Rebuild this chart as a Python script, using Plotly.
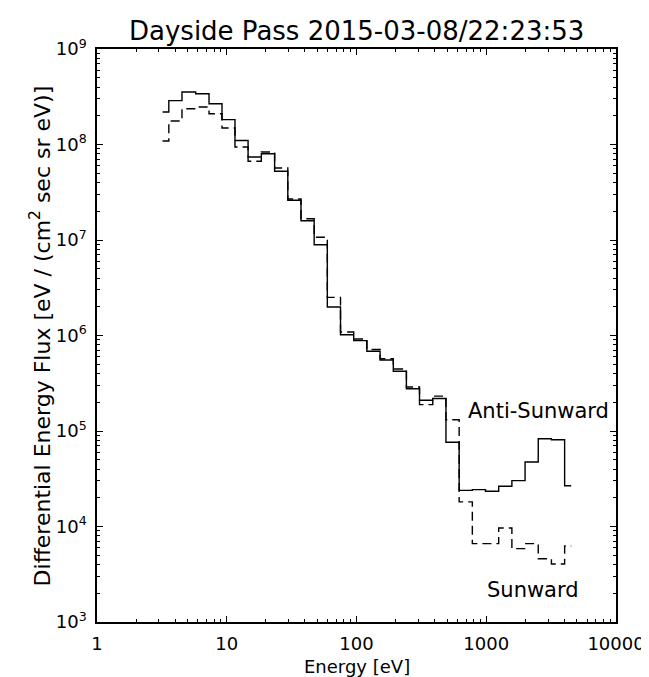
import plotly.graph_objects as go

# Energy bin centres [eV]
energy_ev = [3.2, 4.0, 5.1, 6.5, 8.2, 10.3, 13.0, 16.4, 20.8, 26.3, 33.2, 42.0,
             53.0, 67.0, 84.6, 107, 135, 171, 216, 272, 344, 435, 550, 695,
             878, 1109, 1402, 1771, 2239, 2827, 3573, 4519]

# Differential energy flux [eV / (cm^2 sec sr eV)]
anti_sunward_flux = [2.19e8, 2.88e8, 3.55e8, 3.40e8, 2.67e8, 1.82e8, 1.10e8, 7.40e7,
                     8.01e7, 5.24e7, 2.61e7, 1.59e7, 8.93e6, 1.99e6, 1.02e6, 8.83e5,
                     6.84e5, 5.54e5, 4.22e5, 2.77e5, 2.10e5, 2.19e5, 7.62e4, 2.39e4,
                     2.43e4, 2.34e4, 2.64e4, 3.02e4, 4.74e4, 8.30e4, 8.11e4, 2.67e4]

sunward_flux = [1.09e8, 1.76e8, 2.37e8, 2.47e8, 2.10e8, 1.49e8, 9.4e7, 6.67e7,
                8.34e7, 5.68e7, 2.69e7, 1.67e7, 1.07e7, 2.51e6, 1.09e6, 9.19e5,
                7.13e5, 5.71e5, 4.46e5, 2.89e5, 1.89e5, 2.32e5, 1.31e5, 1.81e4,
                6.61e3, 6.61e3, 9.64e3, 5.86e3, 6.61e3, 4.60e3, 4.05e3, 6.25e3]

x_tick_vals = [1, 10, 100, 1000, 10000]
x_tick_text = ["1", "10", "100", "1000", "10000"]
y_tick_vals = [1e3, 1e4, 1e5, 1e6, 1e7, 1e8, 1e9]
y_tick_text = ["10<sup>3</sup>", "10<sup>4</sup>", "10<sup>5</sup>", "10<sup>6</sup>",
               "10<sup>7</sup>", "10<sup>8</sup>", "10<sup>9</sup>"]

FONT = "DejaVu Sans"

fig = go.Figure()
fig.add_trace(go.Scatter(x=energy_ev, y=anti_sunward_flux, mode="lines",
                         name="Anti-Sunward",
                         line=dict(shape="hvh", color="black", width=1.4)))
fig.add_trace(go.Scatter(x=energy_ev, y=sunward_flux, mode="lines",
                         name="Sunward",
                         line=dict(shape="hvh", color="black", width=1.4, dash="9px,5px")))

axis_common = dict(
    showline=True, linecolor="black", linewidth=1.5, mirror="allticks",
    ticks="inside", ticklen=6, tickwidth=1, tickcolor="black",
    showgrid=False, zeroline=False,
    tickfont=dict(family=FONT, size=18, color="black"),
    minor=dict(ticks="inside", ticklen=3, tickwidth=1, tickcolor="black",
               dtick="D1", showgrid=False),
)

fig.update_xaxes(type="log", range=[0, 4], tickmode="array",
                 tickvals=x_tick_vals, ticktext=x_tick_text,
                 ticklabelstandoff=5, **axis_common)
fig.update_yaxes(type="log", range=[3, 9], tickmode="array",
                 tickvals=y_tick_vals, ticktext=y_tick_text,
                 ticklabelstandoff=5, **axis_common)

fig.update_layout(
    width=649, height=677,
    margin=dict(l=89, r=35, t=41, b=63),
    paper_bgcolor="white", plot_bgcolor="white",
    showlegend=False,
    font=dict(family=FONT, color="black"),
    annotations=[
        dict(text="Dayside Pass 2015-03-08/22:23:53", xref="paper", yref="paper",
             x=0.5, y=1.0314, xanchor="center", yanchor="middle",
             showarrow=False, font=dict(family=FONT, size=26, color="black")),
        dict(text="Energy [eV]", xref="paper", yref="paper",
             x=0.5, y=-0.1, xanchor="center", yanchor="bottom",
             showarrow=False, font=dict(family=FONT, size=18, color="black")),
        dict(text="Differential Energy Flux [eV / (cm<sup>2</sup> sec sr eV)]",
             xref="paper", yref="paper", x=-0.110, y=0.5, textangle=-90,
             xanchor="center", yanchor="middle",
             showarrow=False, font=dict(family=FONT, size=22, color="black")),
        dict(text="Anti-Sunward", xref="paper", yref="paper",
             x=0.85, y=0.368, xanchor="center", yanchor="middle",
             showarrow=False, font=dict(family=FONT, size=21, color="black")),
        dict(text="Sunward", xref="paper", yref="paper",
             x=0.84, y=0.056, xanchor="center", yanchor="middle",
             showarrow=False, font=dict(family=FONT, size=21, color="black")),
    ],
)

fig.write_html("out.html")
